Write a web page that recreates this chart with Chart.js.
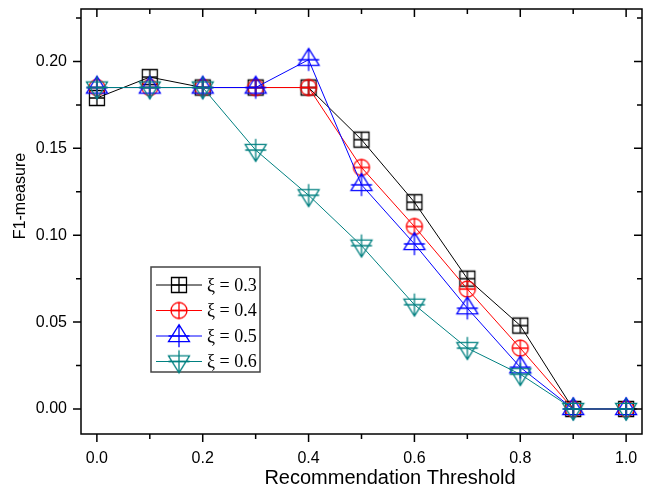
<!DOCTYPE html>
<html>
<head>
<meta charset="utf-8">
<script src="https://cdn.jsdelivr.net/npm/chart.js@4.4.0/dist/chart.umd.min.js"></script>
<style>
  html, body { margin: 0; padding: 0; background: #fff; }
  #wrap { width: 655px; height: 491px; }
</style>
</head>
<body>
<div id="wrap"><canvas id="chart" width="655" height="491"></canvas></div>
<script>
// data
const thresholds = [0.0, 0.1, 0.2, 0.3, 0.4, 0.5, 0.6, 0.7, 0.8, 0.9, 1.0];
const xi03 = [0.179, 0.191, 0.185, 0.185, 0.185, 0.155, 0.119, 0.075, 0.048, 0, 0];
const xi04 = [0.185, 0.185, 0.185, 0.185, 0.185, 0.139, 0.105, 0.069, 0.035, 0, 0];
const xi05 = [0.185, 0.185, 0.185, 0.185, 0.201, 0.129, 0.095, 0.058, 0.024, 0, 0];
const xi06 = [0.185, 0.185, 0.185, 0.149, 0.123, 0.094, 0.060, 0.035, 0.020, 0, 0];
const seriesLabels = ['ξ = 0.3', 'ξ = 0.4', 'ξ = 0.5', 'ξ = 0.6'];
const xTicks = [0.0, 0.2, 0.4, 0.6, 0.8, 1.0];
const xMinor = [0.1, 0.3, 0.5, 0.7, 0.9];
const yTicks = [0.00, 0.05, 0.10, 0.15, 0.20];
const yMinor = [0.025, 0.075, 0.125, 0.175, 0.225];
const xTitle = 'Recommendation Threshold';
const yTitle = 'F1-measure';

const colors = ['#000000', '#ff0000', '#0000ff', '#008080'];
const shapes = ['square', 'circle', 'up', 'down'];
const sans = '"Liberation Sans", Arial, sans-serif';

// hollow markers with a cross inside, like Origin's
function makeMarker(kind, color) {
  const c = document.createElement('canvas');
  c.width = 28; c.height = 28;
  const g = c.getContext('2d');
  const m = 14;
  g.strokeStyle = color;
  g.lineWidth = 1.3;
  g.beginPath();
  if (kind === 'square') {
    g.rect(m - 7.5, m - 7.5, 15, 15);
    g.moveTo(m - 7.5, m); g.lineTo(m + 7.5, m);
    g.moveTo(m, m - 7.5); g.lineTo(m, m + 7.5);
  } else if (kind === 'circle') {
    g.arc(m, m, 8, 0, Math.PI * 2);
    g.moveTo(m - 8, m); g.lineTo(m + 8, m);
    g.moveTo(m, m - 8); g.lineTo(m, m + 8);
  } else {
    const s = kind === 'up' ? 1 : -1;
    const apex = m - s * 11.3, base = m + s * 5.7;
    g.moveTo(m, apex); g.lineTo(m + 10.5, base); g.lineTo(m - 10.5, base); g.closePath();
    g.moveTo(m - 10.5, m); g.lineTo(m + 10.5, m);
    g.moveTo(m, apex); g.lineTo(m, m + s * 11.3);
  }
  g.stroke();
  return c;
}

const markers = shapes.map((s, i) => makeMarker(s, colors[i]));
const allSeries = [xi03, xi04, xi05, xi06];

const datasets = allSeries.map((vals, i) => ({
  label: seriesLabels[i],
  data: thresholds.map((x, j) => ({ x: x, y: vals[j] })),
  borderColor: colors[i],
  backgroundColor: colors[i],
  borderWidth: 1,
  pointStyle: markers[i],
  pointRadius: 8,
  tension: 0,
  fill: false,
  order: 4 - i
}));

// frame, ticks on all four sides, axis titles, legend box
const framePlugin = {
  id: 'frame',
  afterDraw(chart) {
    const ctx = chart.ctx;
    const a = chart.chartArea;
    const xs = chart.scales.x, ys = chart.scales.y;
    ctx.save();
    ctx.strokeStyle = '#000';
    ctx.lineWidth = 1.5;
    ctx.strokeRect(a.left, a.top, a.right - a.left, a.bottom - a.top);
    ctx.beginPath();
    const tickX = (v, len) => {
      const px = xs.getPixelForValue(v);
      ctx.moveTo(px, a.bottom); ctx.lineTo(px, a.bottom + len);
      ctx.moveTo(px, a.top); ctx.lineTo(px, a.top + len);
    };
    const tickY = (v, len) => {
      const py = ys.getPixelForValue(v);
      ctx.moveTo(a.left, py); ctx.lineTo(a.left - len, py);
      ctx.moveTo(a.right, py); ctx.lineTo(a.right - len, py);
    };
    xTicks.forEach(v => tickX(v, 8));
    xMinor.forEach(v => tickX(v, 5));
    yTicks.forEach(v => tickY(v, 8));
    yMinor.forEach(v => tickY(v, 5));
    ctx.stroke();

    // axis titles (Origin places them off-centre)
    ctx.fillStyle = '#000';
    ctx.textAlign = 'center';
    ctx.textBaseline = 'middle';
    ctx.font = '20px ' + sans;
    ctx.fillText(xTitle, 390, 478);
    ctx.save();
    ctx.translate(21, 196);
    ctx.rotate(-Math.PI / 2);
    ctx.font = '16px ' + sans;
    ctx.fillText(yTitle, 0, 0);
    ctx.restore();

    // legend
    ctx.textAlign = 'left';
    ctx.strokeStyle = '#444';
    ctx.lineWidth = 1.5;
    ctx.strokeRect(151, 267, 109, 105);
    const rows = [285, 310.5, 336, 361.5];
    ctx.font = '18px "Liberation Serif", "Times New Roman", serif';
    rows.forEach((ry, i) => {
      ctx.strokeStyle = colors[i];
      ctx.lineWidth = 1;
      ctx.beginPath();
      ctx.moveTo(156, ry); ctx.lineTo(202, ry);
      ctx.stroke();
      ctx.drawImage(markers[i], 179 - 14, ry - 14);
      ctx.fillText(seriesLabels[i], 207, ry + 1);
    });
    ctx.restore();
  }
};

const tickFont = { family: sans, size: 16 };

new Chart(document.getElementById('chart'), {
  type: 'line',
  data: { datasets: datasets },
  options: {
    responsive: false,
    animation: false,
    layout: { padding: { top: 8.5, right: 13, left: 0, bottom: 0 } },
    plugins: { legend: { display: false }, tooltip: { enabled: false } },
    scales: {
      x: {
        type: 'linear',
        min: -0.03,
        max: 1.03,
        grid: { display: false, drawTicks: false },
        border: { display: false },
        afterBuildTicks: s => { s.ticks = xTicks.map(v => ({ value: v })); },
        afterFit: s => { s.height = 57; s.paddingLeft = 0; s.paddingRight = 0; },
        ticks: { color: '#000', font: tickFont, padding: 15, maxRotation: 0, callback: v => v.toFixed(1) }
      },
      y: {
        type: 'linear',
        min: -0.0144,
        max: 0.2302,
        grid: { display: false, drawTicks: false },
        border: { display: false },
        afterBuildTicks: s => { s.ticks = yTicks.map(v => ({ value: v })); },
        afterFit: s => { s.width = 81; s.paddingTop = 0; s.paddingBottom = 0; },
        ticks: { color: '#000', font: tickFont, padding: 14, callback: v => v.toFixed(2) }
      }
    }
  },
  plugins: [framePlugin]
});
</script>
</body>
</html>
